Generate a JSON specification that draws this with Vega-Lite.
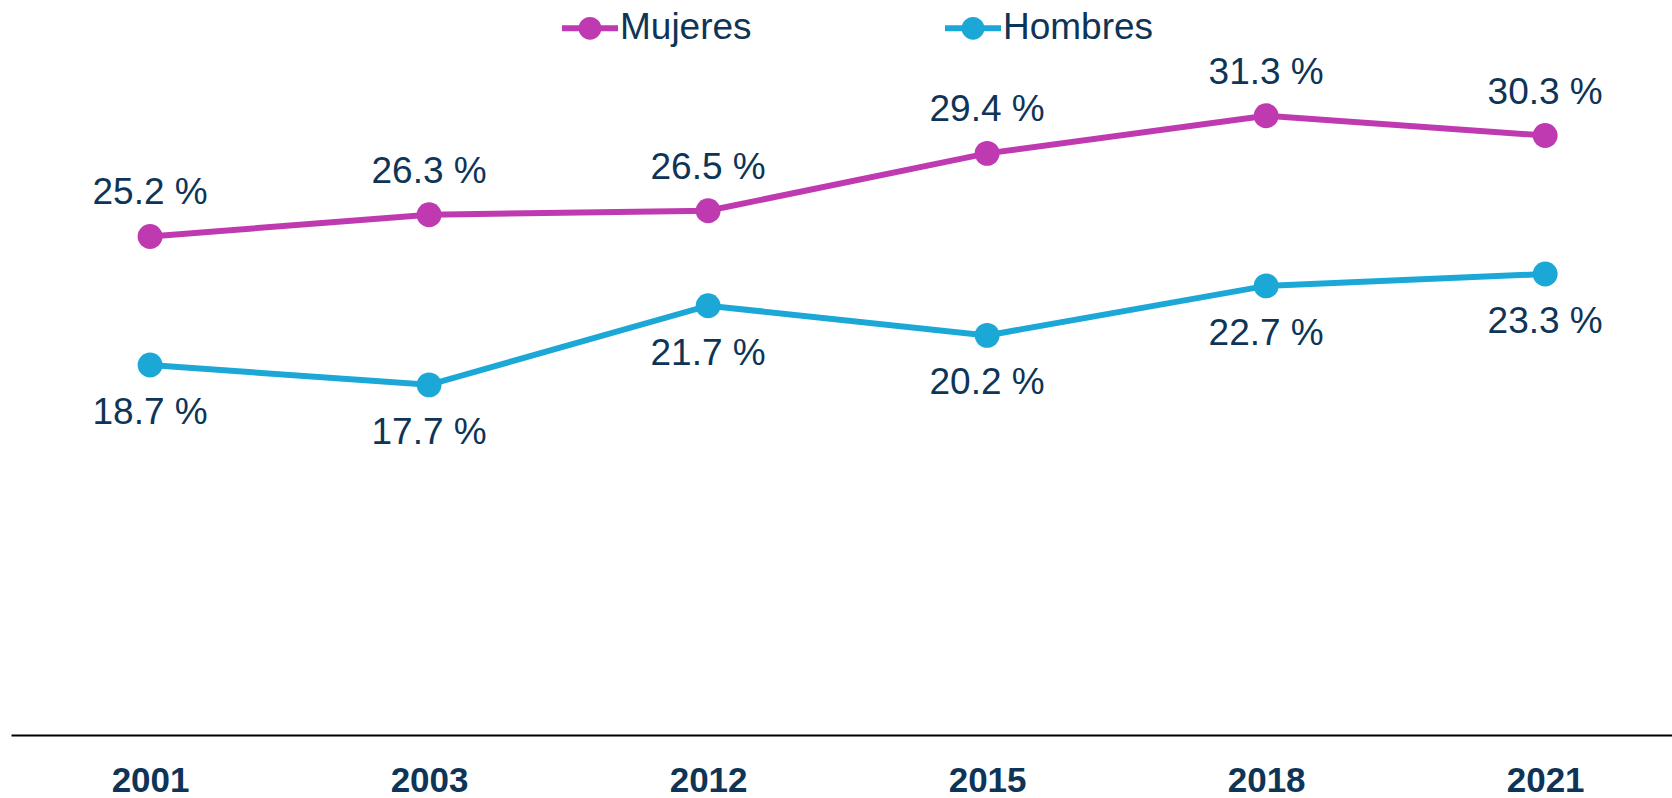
{
  "$schema": "https://vega.github.io/schema/vega-lite/v6.json",
  "width": 1661,
  "height": 732,
  "autosize": {"type": "none"},
  "padding": {"left": 11, "top": 3, "right": 0, "bottom": 63},
  "background": "white",
  "config": {"view": {"stroke": null}, "font": "Liberation Sans"},
  "data": {
    "values": [
      {"anio": "2001", "sexo": "Mujeres", "valor": 25.2},
      {"anio": "2003", "sexo": "Mujeres", "valor": 26.3},
      {"anio": "2012", "sexo": "Mujeres", "valor": 26.5},
      {"anio": "2015", "sexo": "Mujeres", "valor": 29.4},
      {"anio": "2018", "sexo": "Mujeres", "valor": 31.3},
      {"anio": "2021", "sexo": "Mujeres", "valor": 30.3},
      {"anio": "2001", "sexo": "Hombres", "valor": 18.7},
      {"anio": "2003", "sexo": "Hombres", "valor": 17.7},
      {"anio": "2012", "sexo": "Hombres", "valor": 21.7},
      {"anio": "2015", "sexo": "Hombres", "valor": 20.2},
      {"anio": "2018", "sexo": "Hombres", "valor": 22.7},
      {"anio": "2021", "sexo": "Hombres", "valor": 23.3}
    ]
  },
  "transform": [{"calculate": "format(datum.valor, '.1f') + ' %'", "as": "etiqueta"}],
  "encoding": {
    "x": {
      "field": "anio",
      "type": "ordinal",
      "scale": {"type": "point", "padding": 0.4765, "align": 0.523},
      "axis": {
        "title": null,
        "labelAngle": 0,
        "ticks": false,
        "grid": false,
        "domain": true,
        "domainColor": "#000000",
        "domainWidth": 2,
        "labelFont": "Liberation Sans",
        "labelFontSize": 35,
        "labelFontWeight": "bold",
        "labelColor": "#0E3557",
        "labelPadding": 28
      }
    },
    "y": {"field": "valor", "type": "quantitative", "scale": {"domain": [0, 37]}, "axis": null},
    "color": {
      "field": "sexo",
      "type": "nominal",
      "scale": {"domain": ["Mujeres", "Hombres"], "range": ["#BF3AB0", "#1CA8D6"]},
      "legend": {
        "title": null,
        "orient": "none",
        "legendX": 548,
        "legendY": -6,
        "direction": "horizontal",
        "padding": 0,
        "symbolType": "M-1,0H1M-0.3,0A0.3,0.3,0,1,1,0.3,0A0.3,0.3,0,1,1,-0.3,0Z",
        "symbolSize": 3136,
        "symbolStrokeWidth": 6,
        "symbolOpacity": 1,
        "labelFont": "Liberation Sans",
        "labelFontSize": 37,
        "labelColor": "#0E3557",
        "labelOffset": -1,
        "columnPadding": 181,
        "encode": {
          "symbols": {
            "update": {
              "fill": {"field": "value", "scale": "color"},
              "stroke": {"field": "value", "scale": "color"}
            }
          }
        }
      }
    }
  },
  "layer": [
    {"mark": {"type": "line", "strokeWidth": 6}},
    {"mark": {"type": "point", "filled": true, "opacity": 1, "size": 620}},
    {
      "transform": [{"filter": "datum.sexo === 'Mujeres'"}],
      "mark": {"type": "text", "dy": -32, "baseline": "alphabetic", "align": "center", "fontSize": 37, "color": "#0E3557", "font": "Liberation Sans"},
      "encoding": {"text": {"field": "etiqueta"}, "color": {"value": "#0E3557"}}
    },
    {
      "transform": [{"filter": "datum.sexo === 'Hombres'"}],
      "mark": {"type": "text", "dy": 59, "baseline": "alphabetic", "align": "center", "fontSize": 37, "color": "#0E3557", "font": "Liberation Sans"},
      "encoding": {"text": {"field": "etiqueta"}, "color": {"value": "#0E3557"}}
    }
  ]
}
